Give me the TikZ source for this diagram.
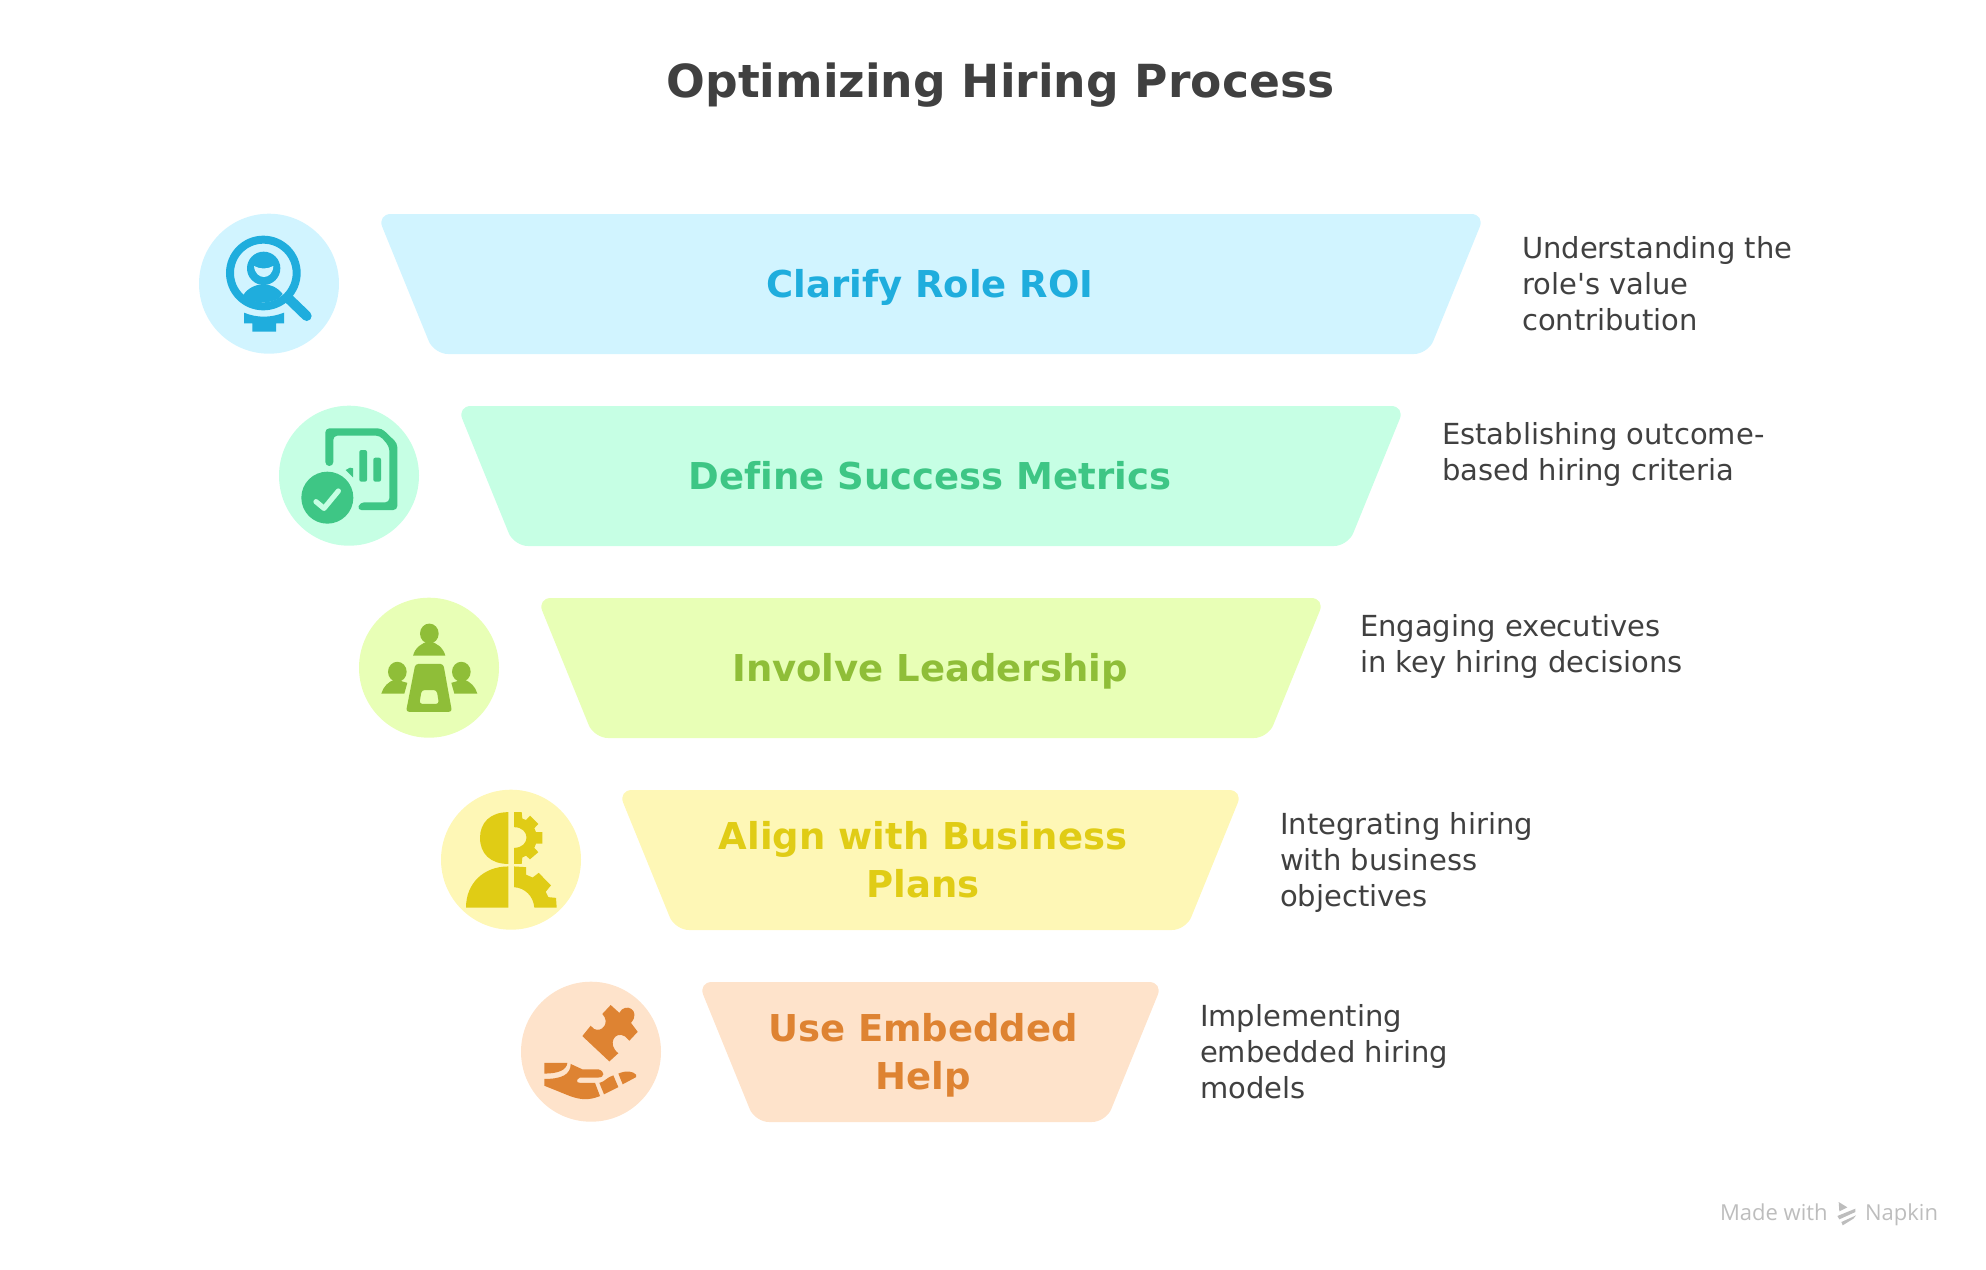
\documentclass[tikz,border=0pt]{standalone}
\usepackage{fontspec}
\setmainfont[Ligatures=NoCommon]{DejaVu Sans}
\newfontfamily\markfont{Open Sans}
\usepackage{xcolor}
\definecolor{inkdark}{HTML}{404040}
\definecolor{inkmark}{HTML}{BDBDBD}
\definecolor{bluelight}{HTML}{D1F4FF}
\definecolor{bluedark}{HTML}{1FADDD}
\definecolor{greenlight}{HTML}{C6FFE4}
\definecolor{greendark}{HTML}{3EC685}
\definecolor{limelight}{HTML}{E8FFB6}
\definecolor{limedark}{HTML}{8FBE38}
\definecolor{yellowlight}{HTML}{FEF7B6}
\definecolor{yellowdark}{HTML}{E0CC15}
\definecolor{orangelight}{HTML}{FEE3CB}
\definecolor{orangedark}{HTML}{DE8332}
\tikzset{
	disc/.style={circle, inner sep=0pt, minimum size=70pt},
	band/.style={rounded corners=7pt},
	headline/.style={font=\fontsize{22.8}{28}\selectfont\bfseries, text=inkdark},
	bandtext/.style={font=\fontsize{18.5}{24}\selectfont\bfseries, align=center},
	sidetext/.style={font=\fontsize{14.5}{18}\selectfont, text=inkdark, align=left, anchor=west},
	marktext/.style={font=\markfont\fontsize{11}{12}\selectfont, text=inkmark, anchor=base west},
	cropone/.style={x=0.16667pt, y=-0.16667pt},
	croptwo/.style={x=0.16667pt, y=-0.17857pt},
}
\begin{document}
\begin{tikzpicture}[x=0.5pt, y=-0.5pt]
	\useasboundingbox (0,0) rectangle (1986,1269);

	\node[headline] (title) at (1000.5,85) {Optimizing Hiring Process};

	\fill[band, bluelight] (377,214) -- (1485,214) -- (1428,354) -- (434,354) -- cycle;
	\fill[band, greenlight] (457,406) -- (1405,406) -- (1348,546) -- (514,546) -- cycle;
	\fill[band, limelight] (537,598) -- (1325,598) -- (1268,738) -- (594,738) -- cycle;
	\fill[band, yellowlight] (618,790) -- (1243,790) -- (1186,930) -- (675,930) -- cycle;
	\fill[band, orangelight] (698,982) -- (1163,982) -- (1106,1122) -- (755,1122) -- cycle;

	\node[disc, fill=bluelight] (discroi) at (269,283.7) {};
	\node[disc, fill=greenlight] (discmetrics) at (349,475.7) {};
	\node[disc, fill=limelight] (discleaders) at (429,667.7) {};
	\node[disc, fill=yellowlight] (discplans) at (511,859.7) {};
	\node[disc, fill=orangelight] (dischelp) at (591,1051.7) {};

	\node[bandtext, text=bluedark] (roi) at (930,287) {Clarify Role ROI};
	\node[bandtext, text=greendark] (metrics) at (930,476) {Define Success Metrics};
	\node[bandtext, text=limedark] (leaders) at (930,671) {Involve Leadership};
	\node[bandtext, text=yellowdark] (plans) at (923,860) {Align with Business\\Plans};
	\node[bandtext, text=orangedark] (help) at (923,1055) {Use Embedded\\Help};

	\node[sidetext] (roinote) at (1515,284) {Understanding the\\role\textquotesingle s value\\contribution};
	\node[sidetext] (metricsnote) at (1435,454) {Establishing outcome-\\based hiring criteria};
	\node[sidetext] (leadersnote) at (1353,646) {Engaging executives\\in key hiring decisions};
	\node[sidetext] (plansnote) at (1273,862) {Integrating hiring\\with business\\objectives};
	\node[sidetext] (helpnote) at (1193,1052) {Implementing\\embedded hiring\\models};

	% magnifier icon
	\begin{scope}[shift={(180,190)}, cropone]
		\draw[bluedark, line width=4pt] (250,249) circle [radius=100];
		\fill[bluedark] (251,235) circle [radius=50];
		\fill[bluelight] (222,228) .. controls (240,238) and (262,238) .. (280,228) .. controls (278,272) and (226,272) .. cycle;
		\fill[bluedark] (190,315) .. controls (205,292) and (230,283) .. (250,283) .. controls (272,283) and (292,292) .. (308,312) .. controls (290,345) and (210,345) .. cycle;
		\draw[bluedark, line width=5pt, line cap=round] (325,325) -- (380,378);
		\fill[bluedark] (192,368) .. controls (230,384) and (272,384) .. (312,368) -- (312,400) -- (288,400) -- (288,425) -- (217,425) -- (217,400) -- (192,400) -- cycle;
	\end{scope}

	% report icon
	\begin{scope}[shift={(180,190)}, cropone]
		\fill[greendark, rounded corners=2pt] (436,828) -- (436,715) -- (605,715) -- (652,760) -- (652,960) -- (532,960) -- (540,937) -- (628,937) -- (628,770) -- (600,737) -- (460,737) -- (460,828) -- cycle;
		\fill[greendark, rounded corners=1pt] (538,780) rectangle (561,875);
		\fill[greendark, rounded corners=1pt] (580,803) rectangle (603,875);
		\fill[greendark] (497,840) -- (510,833) -- (519,835) -- (519,862) -- cycle;
		\fill[greendark] (442,923) circle [radius=78];
		\draw[greenlight, line width=2.6pt, line cap=round, line join=round] (408,935) -- (432,955) -- (475,903);
	\end{scope}

	% meeting icon
	\begin{scope}[shift={(340,580)}, croptwo]
		\fill[limedark] (268,150) circle [radius=28];
		\fill[limedark] (219,212) .. controls (225,190) and (245,175) .. (268,172) .. controls (290,175) and (310,190) .. (316,212) -- cycle;
		\fill[limedark] (172,257) circle [radius=28];
		\fill[limedark] (124,318) .. controls (130,298) and (145,285) .. (165,278) -- (202,288) -- (193,318) -- cycle;
		\fill[limedark] (364,257) circle [radius=28];
		\fill[limedark] (412,318) .. controls (406,298) and (391,285) .. (371,278) -- (334,288) -- (343,318) -- cycle;
		\fill[limedark, even odd rule, rounded corners=1.5pt] (226,235) -- (310,235) -- (336,369) -- (198,369) -- cycle (245,308) -- (290,308) -- (297,347) -- (238,347) -- cycle;
	\end{scope}

	% head and gear icon
	\begin{scope}[shift={(340,580)}, croptwo]
		\fill[yellowdark] (505,650) -- (505,795) .. controls (450,795) and (420,765) .. (420,722) .. controls (420,680) and (450,650) .. cycle;
		\fill[yellowdark] (505,802) -- (505,917) -- (378,917) .. controls (378,850) and (430,802) .. cycle;
		\fill[yellowdark] (522,650) -- (545,650) -- (547,668) -- (558,672) -- (570,660) -- (595,683) -- (583,695) -- (588,706) -- (607,706) -- (607,738) -- (588,738) -- (583,750) -- (595,762) -- (570,782) -- (558,772) -- (547,777) -- (545,795) -- (522,795) -- (522,750) .. controls (572,750) and (572,692) .. (522,692) -- cycle;
		\fill[yellowdark] (522,802) -- (558,804) -- (558,825) -- (578,833) -- (596,820) -- (633,855) -- (617,873) -- (625,888) -- (648,890) -- (650,917) -- (583,917) .. controls (580,885) and (555,862) .. (522,860) -- cycle;
	\end{scope}

	% hand and puzzle icon
	\begin{scope}[shift={(340,580)}, croptwo]
		\fill[orangedark] (727,1277) -- (752,1248) -- (762,1257) .. controls (785,1268) and (812,1240) .. (787,1215) -- (812,1190) -- (838,1212) .. controls (855,1180) and (905,1205) .. (873,1240) -- (893,1265) -- (868,1290) -- (855,1278) .. controls (825,1260) and (800,1300) .. (835,1325) -- (808,1348) -- cycle;
		\fill[orangedark] (613,1352) -- (682,1352) .. controls (680,1372) and (655,1382) .. (613,1382) -- cycle;
		\fill[orangedark] (692,1355) -- (727,1370) -- (775,1370) .. controls (795,1375) and (795,1393) .. (775,1393) -- (720,1393) .. controls (708,1398) and (708,1408) .. (720,1408) -- (765,1408) -- (780,1445) .. controls (745,1458) and (720,1455) .. (690,1445) -- (613,1416) -- (613,1397) .. controls (665,1397) and (692,1385) .. cycle;
		\fill[orangedark] (778,1408) .. controls (795,1405) and (800,1392) .. (820,1387) -- (835,1420) -- (792,1440) -- cycle;
		\fill[orangedark] (835,1382) .. controls (860,1372) and (880,1376) .. (888,1385) -- (888,1392) -- (848,1412) -- cycle;
	\end{scope}

	\node[marktext] (madewith) at (1713,1220) {Made with};
	\node[marktext] (napkin) at (1858,1220) {Napkin};
	\begin{scope}[shift={(1680,1180)}, cropone]
		\fill[inkmark] (476,66) -- (502,82) -- (478,94) -- cycle;
		\fill[inkmark] (472,108) -- (526,86) -- (526,96) -- (478,118) -- cycle;
		\fill[inkmark] (484,126) -- (528,106) -- (520,116) -- (488,136) -- cycle;
	\end{scope}
\end{tikzpicture}
\end{document}
